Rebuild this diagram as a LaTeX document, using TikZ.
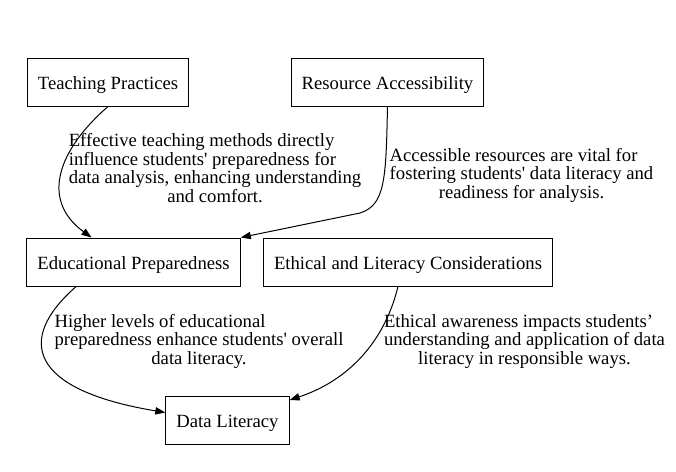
\documentclass[tikz,border=0pt]{standalone}
\usepackage{fontspec}
\setmainfont{Liberation Serif}
\usetikzlibrary{arrows.meta}
\newcommand{\notetext}[2]{\begin{tabular}{@{}l@{}}#1\\\multicolumn{1}{@{}c@{}}{#2}\end{tabular}}

\begin{document}
\begin{tikzpicture}[x=0.75pt,y=-0.75pt,
  boxstyle/.style={rectangle,draw,line width=0.75pt,minimum height=36pt,inner xsep=8pt,text height=11pt,text depth=0pt,font=\fontsize{14}{14}\selectfont},
  notestyle/.style={inner sep=0pt,font=\fontsize{14}{13.9}\selectfont},
  linkstyle/.style={line width=0.75pt,-{Triangle[length=7.5pt,width=5.5pt]}}]
  \useasboundingbox (0,0) rectangle (676,472);

  % boxes
  \node [boxstyle] (teach)    at (108,82)    {Teaching Practices};
  \node [boxstyle] (resource) at (387.5,82)  {Resource Accessibility};
  \node [boxstyle] (prep)     at (133.5,262) {Educational Preparedness};
  \node [boxstyle] (ethics)   at (408,262)   {Ethical and Literacy Considerations};
  \node [boxstyle] (literacy) at (227.5,420.5) {Data Literacy};

  % edge labels
  \node [notestyle] (note1) at (215,170.5) {\notetext{Effective teaching methods directly\\influence students\textquotesingle{} preparedness for\\data analysis, enhancing understanding}{and comfort.}};
  \node [notestyle] (note2) at (521.5,176) {\notetext{Accessible resources are vital for\\fostering students\textquotesingle{} data literacy and}{readiness for analysis.}};
  \node [notestyle] (note3) at (199,342) {\notetext{Higher levels of educational\\preparedness enhance students\textquotesingle{} overall}{data literacy.}};
  \node [notestyle] (note4) at (524.5,342) {\notetext{Ethical awareness impacts students’\\understanding and application of data}{literacy in responsible ways.}};

  % edges
  \draw [linkstyle] (teach.south) .. controls (58,150) and (40,200) .. ([xshift=-31.5pt]prep.north);
  \draw [linkstyle] (resource.south) .. controls (386,180) and (385,205) .. (360,213) -- (prep.north east);
  \draw [linkstyle] ([xshift=-43pt]prep.south) .. controls (15,340) and (30,390) .. ([yshift=6pt]literacy.west);
  \draw [linkstyle] ([xshift=-7.5pt]ethics.south) .. controls (385,340) and (350,380) .. ([yshift=-3pt]literacy.north east);
\end{tikzpicture}
\end{document}
